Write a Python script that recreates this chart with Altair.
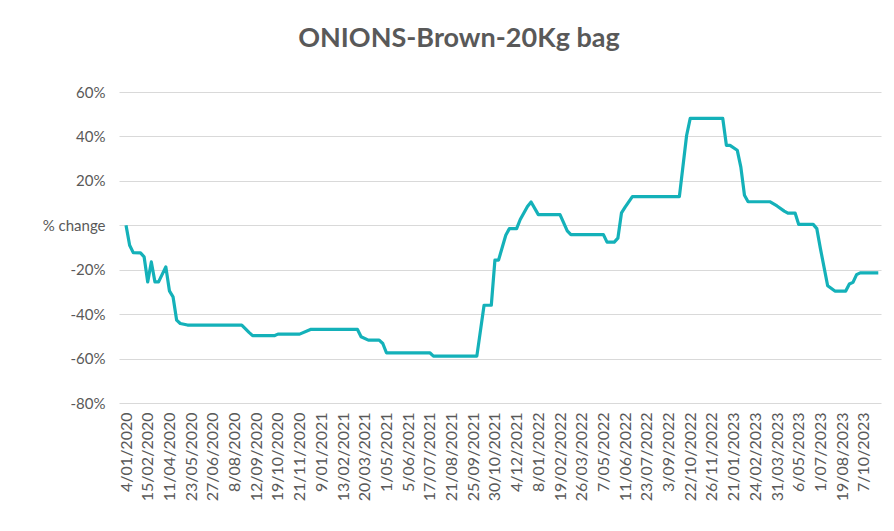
import altair as alt
import pandas as pd

# x-axis labels (one every 6th category)
date_labels = [
    "4/01/2020", "15/02/2020", "11/04/2020", "23/05/2020", "27/06/2020",
    "8/08/2020", "12/09/2020", "19/10/2020", "21/11/2020", "9/01/2021",
    "13/02/2021", "20/03/2021", "1/05/2021", "5/06/2021", "17/07/2021",
    "21/08/2021", "25/09/2021", "30/10/2021", "4/12/2021", "8/01/2022",
    "19/02/2022", "26/03/2022", "7/05/2022", "11/06/2022", "23/07/2022",
    "3/09/2022", "22/10/2022", "26/11/2022", "21/01/2023", "24/02/2023",
    "31/03/2023", "6/05/2023", "1/07/2023", "19/08/2023", "7/10/2023",
]
label_every = 6

# category index of each turning point of the series, and its % change
point_index = [
    0, 1, 2, 4, 5, 6, 7, 8, 9, 11, 12, 13, 14, 15, 17, 32, 34, 35, 41, 42,
    48, 51, 64, 65, 67, 70, 71, 72, 84, 85, 97, 99, 101, 102, 103, 105, 106,
    108, 109, 111, 112, 114, 120, 122, 123, 132, 133, 135, 136, 137, 138,
    140, 153, 155, 156, 165, 166, 167, 169, 170, 171, 172, 178, 180, 182,
    183, 185, 186, 190, 191, 192, 194, 196, 199, 200, 201, 202, 203, 208,
]
pct_change = [
    0, -9, -12.3, -12.4, -14.2, -25.5, -16.5, -25.5, -25.5, -18.7, -29.5,
    -32.2, -42.7, -44.2, -44.9, -44.9, -48.2, -49.7, -49.7, -49.0,
    -49.0, -46.9, -46.9, -50.2, -51.7, -51.7, -53.2, -57.4, -57.4, -58.9,
    -58.9, -36, -36, -15.7, -15.7, -4.5, -1.5,
    -1.5, 2.6, 8.5, 10.5, 4.8, 4.8, -2.5, -4.2, -4.2, -7.6, -7.6, -5.8, 5.6, 8.2,
    12.9, 12.9, 40.4, 48.1, 48.1, 36, 36, 33.8, 26.2, 13.5, 10.6, 10.6, 8.7, 6.4,
    5.5, 5.5, 0.4, 0.4, -1.5, -10.5, -27.2, -29.6, -29.6, -26.4, -25.7, -22.2, -21.4, -21.4,
]
y_ticks = [-80, -60, -40, -20, 0, 20, 40, 60]

df = pd.DataFrame({"idx": point_index, "pct": pct_change})

js_labels = "[" + ",".join("'" + s + "'" for s in date_labels) + "]"
x_tick_values = [i * label_every for i in range(len(date_labels))]

FONT = "Lato"
GREY = "#595959"

chart = (
    alt.Chart(df)
    .mark_line(color="#14B1B9", strokeWidth=3.2, strokeJoin="round")
    .encode(
        x=alt.X(
            "idx:Q",
            scale=alt.Scale(domain=[-1.94, 208.75], nice=False, zero=False),
            axis=alt.Axis(
                values=x_tick_values,
                labelExpr=js_labels + "[round(datum.value/" + str(label_every) + ")]",
                labelAngle=-90,
                labelFont=FONT,
                labelFontSize=16,
                labelColor=GREY,
                labelPadding=9,
                ticks=False,
                domain=False,
                grid=False,
                title=None,
                labelOverlap=False,
                labelBound=False,
                labelFlush=False,
            ),
        ),
        y=alt.Y(
            "pct:Q",
            scale=alt.Scale(domain=[-80, 60], nice=False),
            axis=alt.Axis(
                values=y_ticks,
                labelExpr="datum.value == 0 ? '% change' : datum.value + '%'",
                labelFont=FONT,
                labelFontSize=15,
                labelColor=GREY,
                labelPadding=14,
                ticks=False,
                domain=False,
                gridColor="#D9D9D9",
                gridWidth=1,
                title=None,
            ),
        ),
    )
    .properties(
        width=762,
        height=311,
        background="white",
        title=alt.TitleParams(
            "ONIONS-Brown-20Kg bag",
            font=FONT,
            fontSize=27,
            fontWeight="bold",
            color=GREY,
            anchor="middle",
            dx=-41,
            offset=32,
        ),
        autosize=alt.AutoSizeParams(type="none"),
        padding={"left": 111, "top": 84, "right": 5, "bottom": 120},
    )
    .configure_view(strokeWidth=0, stroke="transparent")
)

chart.save("out.html", embed_options={"renderer": "svg", "actions": False})
